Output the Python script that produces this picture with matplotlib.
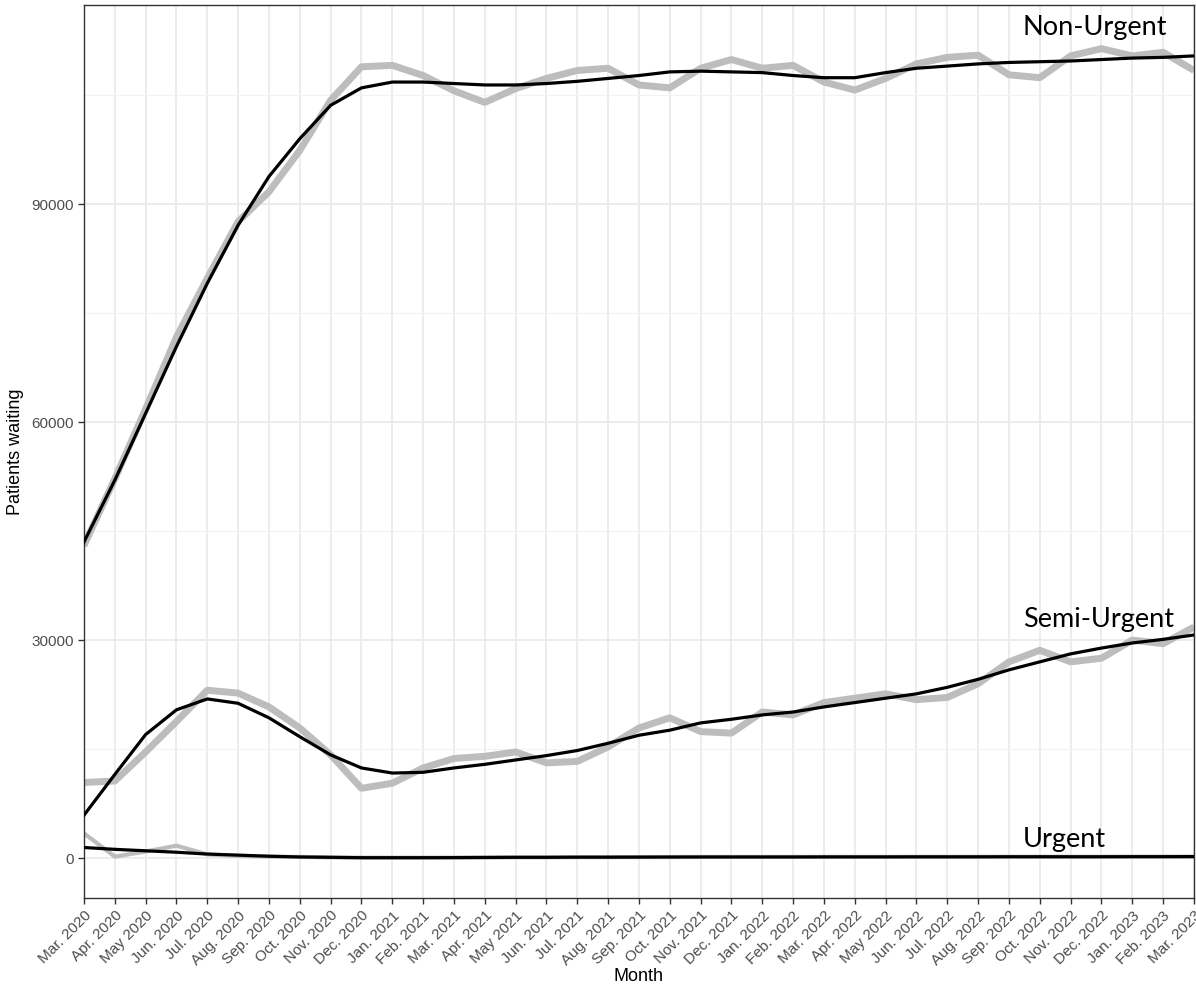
import matplotlib
matplotlib.use("Agg")
import matplotlib.pyplot as plt
from matplotlib.ticker import MultipleLocator

# months Mar 2020 .. Mar 2023
abbr = ["Jan.", "Feb.", "Mar.", "Apr.", "May", "Jun.", "Jul.", "Aug.", "Sep.", "Oct.", "Nov.", "Dec."]
month_labels = []
for i in range(37):
    m = (2 + i) % 12
    y = 2020 + (2 + i) // 12
    month_labels.append(f"{abbr[m]} {y}")
months = list(range(37))

# raw monthly counts (grey) and smoothed trend (black)
non_urgent_raw = [43000, 52200, 61800, 71700, 79800, 87600, 91700, 97400, 104300, 108900, 109100, 107700,
                  105600, 104000, 105900, 107300, 108400, 108700, 106400, 106000, 108700, 109900, 108700, 109100,
                  106800, 105700, 107300, 109300, 110200, 110500, 107800, 107400, 110400, 111400, 110400, 110900,
                  108400]
non_urgent_smooth = [43500, 52000, 61200, 70400, 79100, 87100, 93800, 99000, 103600, 106000, 106800, 106800,
                     106600, 106400, 106400, 106600, 106900, 107300, 107700, 108200, 108300, 108200, 108100, 107700,
                     107400, 107400, 108100, 108700, 109000, 109300, 109500, 109600, 109700, 109900, 110100, 110200,
                     110400]

semi_urgent_raw = [10400, 10600, 14600, 18800, 23100, 22700, 20800, 17900, 14200, 9600, 10300, 12400,
                   13700, 14000, 14600, 13100, 13300, 15300, 17900, 19300, 17400, 17200, 20100, 19700,
                   21400, 22000, 22600, 21800, 22100, 24000, 27000, 28600, 27000, 27500, 30000, 29500,
                   31800]
semi_urgent_smooth = [5900, 11500, 17000, 20400, 21900, 21300, 19300, 16700, 14200, 12400, 11700, 11800,
                      12400, 12900, 13500, 14100, 14800, 15800, 16900, 17600, 18600, 19100, 19700, 20100,
                      20800, 21400, 22000, 22600, 23500, 24600, 25900, 27000, 28100, 28900, 29600, 30100,
                      30700]

urgent_raw = [3400, 200, 900, 1700, 500, 300, 200, 150, 100, 50, 50, 50,
              60, 80, 100, 100, 120, 120, 130, 140, 150, 150, 150, 150,
              160, 160, 160, 170, 170, 170, 180, 180, 180, 180, 190, 190,
              200]
urgent_smooth = [1450, 1200, 1000, 800, 550, 400, 250, 150, 100, 50, 50, 50,
                 60, 80, 100, 100, 120, 120, 130, 140, 150, 150, 150, 150,
                 160, 160, 160, 170, 170, 170, 180, 180, 180, 180, 190, 190,
                 200]

series_names = ["Non-Urgent", "Semi-Urgent", "Urgent"]
label_values = [114300, 32900, 2500]

fig = plt.figure(figsize=(11.96, 9.89), dpi=100)
ax = fig.add_axes([0.0702, 0.092, 0.9281, 0.9029])

grey = "#BDBDBD"
ax.plot(months, non_urgent_raw, color=grey, lw=5, solid_capstyle="butt", solid_joinstyle="round", zorder=2)
ax.plot(months, semi_urgent_raw, color=grey, lw=5, solid_capstyle="butt", solid_joinstyle="round", zorder=2)
ax.plot(months, urgent_raw, color=grey, lw=3, solid_capstyle="butt", solid_joinstyle="round", zorder=2)
ax.plot(months, non_urgent_smooth, color="black", lw=2.3, solid_joinstyle="round", zorder=3)
ax.plot(months, semi_urgent_smooth, color="black", lw=2.3, solid_joinstyle="round", zorder=3)
ax.plot(months, urgent_smooth, color="black", lw=2.3, solid_joinstyle="round", zorder=3)

for name, v in zip(series_names, label_values):
    ax.text(30.45, v, name, fontsize=19.5, family="Lato", color="black", va="center", ha="left", zorder=4)

ax.set_xlim(0, 36)
ax.set_ylim(-5500, 117400)
ax.set_xticks(months)
ax.set_xticklabels(month_labels, rotation=45, ha="right", rotation_mode="anchor")
ax.set_yticks([0, 30000, 60000, 90000])
ax.yaxis.set_minor_locator(MultipleLocator(15000))
ax.grid(True, which="major", color="#EBEBEB", lw=1.3, zorder=0)
ax.grid(True, which="minor", axis="y", color="#F2F2F2", lw=0.8, zorder=0)
ax.tick_params(axis="both", which="major", labelsize=11, labelcolor="#4D4D4D", color="#333333",
               length=4, width=1)
ax.tick_params(axis="y", which="minor", length=0)
for lab in ax.get_xticklabels() + ax.get_yticklabels():
    lab.set_family("Liberation Sans")
for s in ax.spines.values():
    s.set_color("#333333")
    s.set_linewidth(1)

ax.set_xlabel("Month", fontsize=13, family="Liberation Sans", labelpad=0)
ax.set_ylabel("Patients waiting", fontsize=13, family="Liberation Sans", labelpad=5)

fig.savefig("out.png", dpi=100)
